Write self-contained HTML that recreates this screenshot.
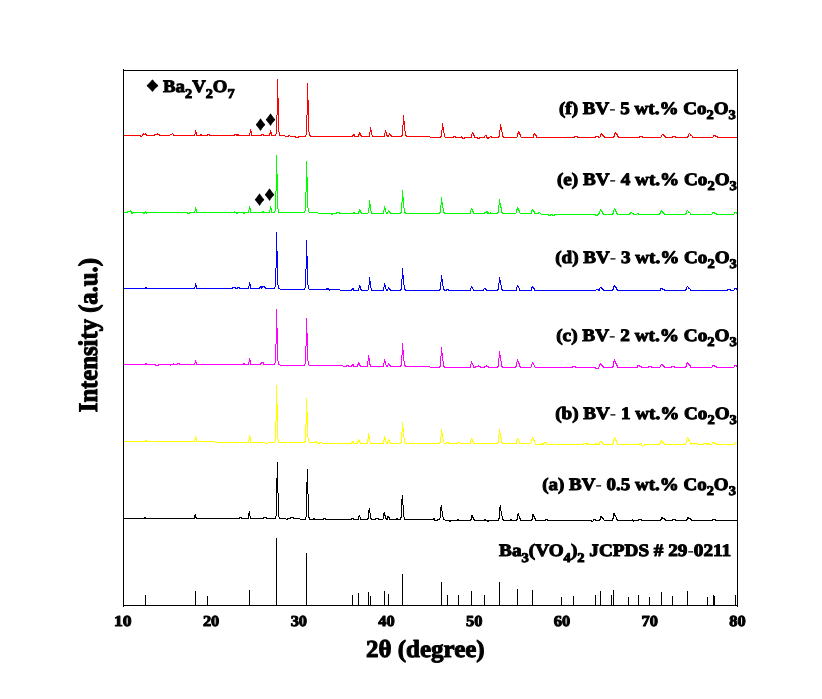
<!DOCTYPE html>
<html lang="en"><head><meta charset="utf-8"><title>XRD patterns</title>
<style>html,body{margin:0;padding:0;background:#fff;}body{width:822px;height:699px;overflow:hidden;}svg{display:block;}text{font-family:"Liberation Serif",serif;font-weight:bold;fill:#000;text-rendering:geometricPrecision;}</style>
</head><body>
<svg width="822" height="699" viewBox="0 0 822 699">
<rect x="0" y="0" width="822" height="699" fill="#ffffff"/>
<g stroke="none" shape-rendering="crispEdges">
<path d="M123 135h17v1h-17zM140 135h1v2h-1zM141 136h1v1h-1zM142 134h1v2h-1zM143 133h1v2h-1zM144 134h1v1h-1zM145 133h1v2h-1zM146 134h1v2h-1zM147 135h7v1h-7zM154 134h1v2h-1zM155 134h2v1h-2zM157 133h1v2h-1zM158 134h1v1h-1zM159 134h1v2h-1zM160 135h10v1h-10zM170 134h2v1h-2zM172 133h1v1h-1zM173 134h1v2h-1zM174 135h20v1h-20zM194 134h1v2h-1zM195 130h1v4h-1zM196 132h1v4h-1zM197 135h3v1h-3zM200 134h2v2h-2zM202 135h5v1h-5zM207 134h1v2h-1zM208 134h1v1h-1zM209 134h1v2h-1zM210 135h24v1h-24zM234 134h1v2h-1zM235 134h1v1h-1zM236 134h3v2h-3zM239 135h10v1h-10zM249 133h1v3h-1zM250 129h1v4h-1zM251 131h1v5h-1zM252 135h9v1h-9zM261 134h1v2h-1zM262 134h1v1h-1zM263 134h1v2h-1zM264 135h5v1h-5zM269 133h1v3h-1zM270 130h1v4h-1zM271 132h1v4h-1zM272 135h3v1h-3zM275 134h1v2h-1zM276 115h1v19h-1zM277 79h1v36h-1zM278 98h1v34h-1zM279 132h1v4h-1zM280 135h5v1h-5zM285 136h3v1h-3zM288 135h1v2h-1zM289 135h1v1h-1zM290 136h5v1h-5zM295 136h1v2h-1zM296 137h2v1h-2zM298 136h1v2h-1zM299 136h6v1h-6zM305 135h1v2h-1zM306 115h1v20h-1zM307 83h1v32h-1zM308 100h1v32h-1zM309 132h1v4h-1zM310 135h1v2h-1zM311 136h41v1h-41zM352 135h1v2h-1zM353 134h1v2h-1zM354 134h1v3h-1zM355 136h3v1h-3zM358 134h1v3h-1zM359 132h1v3h-1zM360 133h1v3h-1zM361 135h1v2h-1zM362 136h7v1h-7zM369 132h1v5h-1zM370 127h1v5h-1zM371 130h1v5h-1zM372 135h1v2h-1zM373 136h11v1h-11zM384 133h1v4h-1zM385 130h1v3h-1zM386 132h1v4h-1zM387 135h2v2h-2zM389 133h1v2h-1zM390 134h1v2h-1zM391 135h1v2h-1zM392 136h9v1h-9zM401 135h1v2h-1zM402 125h1v11h-1zM403 115h1v10h-1zM404 121h1v10h-1zM405 131h1v5h-1zM406 135h1v2h-1zM407 136h23v1h-23zM430 137h10v1h-10zM440 136h1v2h-1zM441 130h1v7h-1zM442 123h1v7h-1zM443 127h1v6h-1zM444 133h1v4h-1zM445 137h8v1h-8zM453 136h1v2h-1zM454 136h1v1h-1zM455 136h1v2h-1zM456 137h5v1h-5zM461 136h1v2h-1zM462 137h1v2h-1zM463 138h1v1h-1zM464 137h1v2h-1zM465 137h6v1h-6zM471 134h1v4h-1zM472 132h1v2h-1zM473 133h1v3h-1zM474 135h1v3h-1zM475 137h2v1h-2zM477 137h1v2h-1zM478 138h1v1h-1zM479 137h1v2h-1zM480 137h4v1h-4zM484 136h1v2h-1zM485 135h1v1h-1zM486 135h1v3h-1zM487 137h2v2h-2zM489 137h1v1h-1zM490 136h1v1h-1zM491 136h1v2h-1zM492 137h6v1h-6zM498 136h1v2h-1zM499 130h1v7h-1zM500 124h1v6h-1zM501 127h1v5h-1zM502 132h1v5h-1zM503 136h1v2h-1zM504 137h13v1h-13zM517 133h1v4h-1zM518 131h1v3h-1zM519 132h1v3h-1zM520 134h1v3h-1zM521 137h12v1h-12zM533 134h1v4h-1zM534 133h1v2h-1zM535 134h1v2h-1zM536 135h1v3h-1zM537 137h37v1h-37zM574 136h1v2h-1zM575 136h2v1h-2zM577 136h1v2h-1zM578 137h17v1h-17zM595 136h1v2h-1zM596 136h2v1h-2zM598 136h1v2h-1zM599 137h1v1h-1zM600 134h1v3h-1zM601 133h1v2h-1zM602 134h1v2h-1zM603 135h1v2h-1zM604 136h1v2h-1zM605 137h8v1h-8zM613 136h1v2h-1zM614 133h1v4h-1zM615 132h1v2h-1zM616 133h1v2h-1zM617 134h1v3h-1zM618 136h1v2h-1zM619 137h20v1h-20zM639 136h1v2h-1zM640 136h2v1h-2zM642 136h1v2h-1zM643 137h18v1h-18zM661 135h1v2h-1zM662 134h1v1h-1zM663 134h1v2h-1zM664 135h1v2h-1zM665 136h1v2h-1zM666 137h6v1h-6zM672 136h1v2h-1zM673 136h2v1h-2zM675 136h1v2h-1zM676 137h11v1h-11zM687 136h1v2h-1zM688 134h1v3h-1zM689 133h1v1h-1zM690 134h1v2h-1zM691 135h1v1h-1zM692 136h1v2h-1zM693 137h20v1h-20zM713 135h1v2h-1zM714 135h1v1h-1zM715 135h1v2h-1zM716 136h1v1h-1zM717 136h1v2h-1zM718 137h20v1h-20z" fill="#ff0000"/>
<path d="M123 212h4v1h-4zM127 211h1v2h-1zM128 211h2v1h-2zM130 210h1v2h-1zM131 211h1v3h-1zM132 212h1v2h-1zM133 212h10v1h-10zM143 212h2v2h-2zM145 211h1v2h-1zM146 212h1v2h-1zM147 212h40v1h-40zM187 212h1v2h-1zM188 213h1v1h-1zM189 212h1v2h-1zM190 212h4v1h-4zM194 211h1v2h-1zM195 207h1v4h-1zM196 209h1v4h-1zM197 212h37v1h-37zM234 211h1v2h-1zM235 212h1v1h-1zM236 212h2v2h-2zM238 212h5v1h-5zM243 212h2v2h-2zM245 212h3v1h-3zM248 210h1v3h-1zM249 206h1v4h-1zM250 208h1v5h-1zM251 212h11v1h-11zM262 211h2v2h-2zM264 212h5v1h-5zM269 210h1v3h-1zM270 206h1v4h-1zM271 208h1v5h-1zM272 212h2v1h-2zM274 211h1v2h-1zM275 191h1v20h-1zM276 155h1v36h-1zM277 174h1v35h-1zM278 209h1v4h-1zM279 212h25v1h-25zM304 211h1v2h-1zM305 192h1v19h-1zM306 161h1v31h-1zM307 177h1v31h-1zM308 208h1v4h-1zM309 212h9v1h-9zM318 213h13v1h-13zM331 213h2v2h-2zM333 213h3v1h-3zM336 212h1v2h-1zM337 212h2v1h-2zM339 212h1v2h-1zM340 213h13v1h-13zM353 212h2v2h-2zM355 213h3v1h-3zM358 211h1v3h-1zM359 209h1v3h-1zM360 210h1v3h-1zM361 212h1v2h-1zM362 213h6v1h-6zM368 208h1v5h-1zM369 200h1v8h-1zM370 204h1v7h-1zM371 211h1v3h-1zM372 213h11v1h-11zM383 210h1v4h-1zM384 206h1v4h-1zM385 208h1v4h-1zM386 212h2v2h-2zM388 210h1v2h-1zM389 211h1v2h-1zM390 212h1v2h-1zM391 213h9v1h-9zM400 212h1v2h-1zM401 202h1v11h-1zM402 190h1v12h-1zM403 197h1v11h-1zM404 208h1v5h-1zM405 212h1v2h-1zM406 213h33v1h-33zM439 212h1v2h-1zM440 205h1v8h-1zM441 197h1v8h-1zM442 202h1v6h-1zM443 208h1v5h-1zM444 212h1v2h-1zM445 213h25v1h-25zM470 210h1v4h-1zM471 208h1v2h-1zM472 209h1v3h-1zM473 211h1v3h-1zM474 213h10v1h-10zM484 212h1v2h-1zM485 212h1v1h-1zM486 211h1v2h-1zM487 211h1v3h-1zM488 212h1v2h-1zM489 213h1v1h-1zM490 212h1v2h-1zM491 213h6v1h-6zM497 212h1v2h-1zM498 205h1v8h-1zM499 199h1v6h-1zM500 203h1v5h-1zM501 207h1v6h-1zM502 212h1v2h-1zM503 213h13v1h-13zM516 209h1v4h-1zM517 207h1v3h-1zM518 208h1v3h-1zM519 210h1v3h-1zM520 213h11v1h-11zM531 210h1v4h-1zM532 209h1v2h-1zM533 210h1v2h-1zM534 211h1v3h-1zM535 213h3v1h-3zM538 212h1v2h-1zM539 212h1v1h-1zM540 213h1v1h-1zM541 214h7v1h-7zM548 214h1v2h-1zM549 215h1v1h-1zM550 214h1v2h-1zM551 214h1v1h-1zM552 214h1v2h-1zM553 215h1v1h-1zM554 214h1v2h-1zM555 214h40v1h-40zM595 214h1v2h-1zM596 215h1v1h-1zM597 214h1v2h-1zM598 213h1v2h-1zM599 211h1v3h-1zM600 209h1v2h-1zM601 210h1v2h-1zM602 211h1v3h-1zM603 213h1v2h-1zM604 214h8v1h-8zM612 213h1v2h-1zM613 210h1v4h-1zM614 208h1v2h-1zM615 209h1v3h-1zM616 211h1v3h-1zM617 213h1v2h-1zM618 214h11v1h-11zM629 213h1v2h-1zM630 212h1v2h-1zM631 212h1v1h-1zM632 213h1v1h-1zM633 213h1v2h-1zM634 214h3v1h-3zM637 213h1v1h-1zM638 213h1v2h-1zM639 214h20v1h-20zM659 213h1v2h-1zM660 211h1v3h-1zM661 210h1v2h-1zM662 211h1v2h-1zM663 212h1v2h-1zM664 213h1v2h-1zM665 214h20v1h-20zM685 213h1v2h-1zM686 211h1v3h-1zM687 210h1v1h-1zM688 211h1v2h-1zM689 212h1v1h-1zM690 213h1v2h-1zM691 214h21v1h-21zM712 212h1v2h-1zM713 212h1v1h-1zM714 212h1v2h-1zM715 213h1v1h-1zM716 213h1v2h-1zM717 214h17v1h-17zM734 212h1v2h-1zM735 212h1v1h-1zM736 212h1v2h-1zM737 213h1v1h-1z" fill="#00ff00"/>
<path d="M123 288h22v1h-22zM145 287h2v2h-2zM147 288h47v1h-47zM194 287h1v2h-1zM195 283h1v4h-1zM196 285h1v4h-1zM197 288h35v1h-35zM232 287h1v2h-1zM233 287h2v1h-2zM235 287h1v2h-1zM236 288h1v1h-1zM237 287h1v2h-1zM238 287h1v1h-1zM239 287h1v2h-1zM240 288h8v1h-8zM248 286h1v3h-1zM249 282h1v4h-1zM250 284h1v5h-1zM251 288h8v1h-8zM259 287h1v2h-1zM260 286h1v2h-1zM261 286h1v3h-1zM262 286h1v2h-1zM263 286h1v1h-1zM264 286h1v2h-1zM265 287h1v2h-1zM266 288h8v1h-8zM274 287h1v2h-1zM275 268h1v19h-1zM276 232h1v36h-1zM277 251h1v34h-1zM278 285h1v4h-1zM279 288h1v1h-1zM280 289h24v1h-24zM304 288h1v2h-1zM305 269h1v19h-1zM306 240h1v29h-1zM307 256h1v29h-1zM308 285h1v4h-1zM309 289h17v1h-17zM326 288h3v2h-3zM329 289h1v2h-1zM330 289h10v1h-10zM340 290h11v1h-11zM351 289h1v2h-1zM352 288h1v2h-1zM353 288h1v3h-1zM354 290h4v1h-4zM358 288h1v3h-1zM359 285h1v3h-1zM360 286h1v4h-1zM361 289h1v2h-1zM362 290h6v1h-6zM368 285h1v5h-1zM369 277h1v8h-1zM370 281h1v7h-1zM371 288h1v3h-1zM372 290h11v1h-11zM383 287h1v4h-1zM384 283h1v4h-1zM385 285h1v4h-1zM386 289h2v2h-2zM388 287h1v2h-1zM389 288h1v2h-1zM390 289h1v2h-1zM391 290h9v1h-9zM400 289h1v2h-1zM401 279h1v11h-1zM402 268h1v11h-1zM403 275h1v10h-1zM404 285h1v5h-1zM405 289h1v2h-1zM406 290h33v1h-33zM439 289h1v2h-1zM440 282h1v8h-1zM441 275h1v7h-1zM442 279h1v7h-1zM443 286h1v4h-1zM444 289h1v2h-1zM445 290h1v1h-1zM446 289h1v2h-1zM447 289h1v1h-1zM448 289h1v2h-1zM449 290h21v1h-21zM470 288h1v3h-1zM471 286h1v2h-1zM472 287h1v2h-1zM473 289h1v2h-1zM474 290h9v1h-9zM483 289h1v2h-1zM484 288h1v1h-1zM485 288h1v2h-1zM486 289h1v2h-1zM487 290h10v1h-10zM497 289h1v2h-1zM498 283h1v7h-1zM499 277h1v6h-1zM500 280h1v5h-1zM501 285h1v5h-1zM502 289h1v2h-1zM503 290h13v1h-13zM516 287h1v4h-1zM517 285h1v2h-1zM518 286h1v2h-1zM519 288h1v3h-1zM520 290h11v1h-11zM531 287h1v4h-1zM532 286h1v2h-1zM533 287h1v2h-1zM534 288h1v3h-1zM535 290h61v1h-61zM596 289h2v1h-2zM598 289h1v2h-1zM599 288h1v3h-1zM600 287h1v1h-1zM601 287h1v2h-1zM602 288h1v2h-1zM603 289h1v2h-1zM604 290h8v1h-8zM612 289h1v2h-1zM613 286h1v4h-1zM614 285h1v2h-1zM615 286h1v2h-1zM616 287h1v3h-1zM617 289h1v2h-1zM618 290h42v1h-42zM660 288h1v3h-1zM661 288h1v1h-1zM662 288h1v2h-1zM663 289h1v1h-1zM664 289h1v2h-1zM665 290h20v1h-20zM685 289h1v2h-1zM686 287h1v3h-1zM687 286h1v1h-1zM688 287h1v2h-1zM689 288h1v1h-1zM690 289h1v2h-1zM691 290h36v1h-36zM727 289h1v2h-1zM728 289h2v1h-2zM730 289h1v2h-1zM731 290h3v1h-3zM734 288h1v2h-1zM735 288h1v1h-1zM736 288h1v2h-1zM737 289h1v1h-1z" fill="#0000ff"/>
<path d="M123 364h22v1h-22zM145 363h2v2h-2zM147 364h8v1h-8zM155 364h1v2h-1zM156 365h2v1h-2zM158 364h1v2h-1zM159 364h11v1h-11zM170 364h1v2h-1zM171 364h2v1h-2zM173 363h1v2h-1zM174 364h3v1h-3zM177 363h1v2h-1zM178 363h1v1h-1zM179 363h1v2h-1zM180 364h14v1h-14zM194 363h1v2h-1zM195 360h1v3h-1zM196 362h1v3h-1zM197 364h46v1h-46zM243 363h2v2h-2zM245 364h3v1h-3zM248 362h1v3h-1zM249 358h1v4h-1zM250 360h1v5h-1zM251 364h9v1h-9zM260 363h1v2h-1zM261 362h1v2h-1zM262 362h1v1h-1zM263 362h1v3h-1zM264 364h10v1h-10zM274 363h1v2h-1zM275 344h1v19h-1zM276 309h1v35h-1zM277 328h1v33h-1zM278 361h1v4h-1zM279 364h1v1h-1zM280 365h24v1h-24zM304 364h1v2h-1zM305 346h1v18h-1zM306 318h1v28h-1zM307 333h1v28h-1zM308 361h1v4h-1zM309 365h34v1h-34zM343 366h3v1h-3zM346 365h1v2h-1zM347 365h1v1h-1zM348 365h1v2h-1zM349 366h2v1h-2zM351 365h1v2h-1zM352 364h1v2h-1zM353 364h1v3h-1zM354 366h3v1h-3zM357 364h1v3h-1zM358 362h1v3h-1zM359 363h1v3h-1zM360 365h1v2h-1zM361 366h6v1h-6zM367 361h1v6h-1zM368 355h1v6h-1zM369 358h1v7h-1zM370 364h1v3h-1zM371 366h12v1h-12zM383 363h1v4h-1zM384 359h1v4h-1zM385 361h1v4h-1zM386 365h2v2h-2zM388 363h1v2h-1zM389 364h1v2h-1zM390 365h1v2h-1zM391 366h9v1h-9zM400 365h1v2h-1zM401 355h1v11h-1zM402 343h1v12h-1zM403 350h1v11h-1zM404 361h1v5h-1zM405 365h1v2h-1zM406 366h24v1h-24zM430 367h9v1h-9zM439 366h1v2h-1zM440 356h1v11h-1zM441 347h1v9h-1zM442 353h1v8h-1zM443 361h1v6h-1zM444 366h1v2h-1zM445 367h25v1h-25zM470 364h1v4h-1zM471 361h1v3h-1zM472 363h1v2h-1zM473 365h1v3h-1zM474 367h1v1h-1zM475 366h1v2h-1zM476 366h2v1h-2zM478 365h1v2h-1zM479 366h1v1h-1zM480 366h1v2h-1zM481 367h3v1h-3zM484 366h1v2h-1zM485 366h1v1h-1zM486 365h1v2h-1zM487 366h1v1h-1zM488 366h1v2h-1zM489 367h8v1h-8zM497 366h1v2h-1zM498 358h1v9h-1zM499 351h1v7h-1zM500 355h1v6h-1zM501 361h1v6h-1zM502 366h1v2h-1zM503 367h12v1h-12zM515 366h1v2h-1zM516 362h1v5h-1zM517 359h1v3h-1zM518 361h1v3h-1zM519 363h1v4h-1zM520 366h1v2h-1zM521 367h10v1h-10zM531 364h1v3h-1zM532 362h1v2h-1zM533 363h1v2h-1zM534 365h1v2h-1zM535 367h37v1h-37zM572 366h1v2h-1zM573 366h2v1h-2zM575 366h1v2h-1zM576 367h19v1h-19zM595 367h1v2h-1zM596 368h2v1h-2zM598 367h1v2h-1zM599 364h1v3h-1zM600 363h1v2h-1zM601 364h1v2h-1zM602 365h1v2h-1zM603 366h1v2h-1zM604 367h8v1h-8zM612 366h1v2h-1zM613 361h1v6h-1zM614 359h1v3h-1zM615 361h1v3h-1zM616 363h1v3h-1zM617 365h1v3h-1zM618 367h19v1h-19zM637 365h1v3h-1zM638 365h1v1h-1zM639 365h1v2h-1zM640 366h1v1h-1zM641 366h1v2h-1zM642 367h6v1h-6zM648 366h1v2h-1zM649 366h2v1h-2zM651 366h1v2h-1zM652 367h8v1h-8zM660 365h1v2h-1zM661 364h1v1h-1zM662 364h1v2h-1zM663 365h1v2h-1zM664 366h1v2h-1zM665 367h6v1h-6zM671 366h1v2h-1zM672 366h2v1h-2zM674 366h1v2h-1zM675 367h10v1h-10zM685 366h1v2h-1zM686 363h1v4h-1zM687 362h1v2h-1zM688 363h1v2h-1zM689 364h1v2h-1zM690 365h1v3h-1zM691 367h21v1h-21zM712 365h1v2h-1zM713 365h1v1h-1zM714 365h1v2h-1zM715 366h1v1h-1zM716 366h1v2h-1zM717 367h17v1h-17zM734 365h1v2h-1zM735 365h1v1h-1zM736 365h1v2h-1zM737 366h1v1h-1z" fill="#ff00ff"/>
<path d="M123 441h22v1h-22zM145 440h2v2h-2zM147 441h47v1h-47zM194 440h1v2h-1zM195 436h1v4h-1zM196 438h1v4h-1zM197 441h18v1h-18zM215 442h33v1h-33zM248 440h1v3h-1zM249 435h1v5h-1zM250 437h1v6h-1zM251 442h14v1h-14zM265 443h3v1h-3zM268 442h6v1h-6zM274 441h1v2h-1zM275 421h1v20h-1zM276 385h1v36h-1zM277 404h1v35h-1zM278 439h1v4h-1zM279 442h25v1h-25zM304 441h1v2h-1zM305 425h1v17h-1zM306 398h1v27h-1zM307 412h1v26h-1zM308 438h1v4h-1zM309 442h6v1h-6zM315 441h1v2h-1zM316 441h1v1h-1zM317 442h1v2h-1zM318 443h1v1h-1zM319 442h1v2h-1zM320 442h2v1h-2zM322 443h29v1h-29zM351 442h1v2h-1zM352 441h1v2h-1zM353 441h1v3h-1zM354 443h3v1h-3zM357 441h1v3h-1zM358 439h1v3h-1zM359 440h1v3h-1zM360 442h1v2h-1zM361 443h6v1h-6zM367 439h1v5h-1zM368 433h1v6h-1zM369 436h1v6h-1zM370 442h1v2h-1zM371 443h12v1h-12zM383 440h1v4h-1zM384 436h1v4h-1zM385 438h1v4h-1zM386 442h1v2h-1zM387 441h1v3h-1zM388 439h1v2h-1zM389 440h1v3h-1zM390 442h1v2h-1zM391 443h9v1h-9zM400 442h1v2h-1zM401 432h1v11h-1zM402 422h1v10h-1zM403 428h1v10h-1zM404 438h1v5h-1zM405 443h34v1h-34zM439 442h1v2h-1zM440 436h1v7h-1zM441 429h1v7h-1zM442 433h1v6h-1zM443 439h1v4h-1zM444 443h2v1h-2zM446 442h1v2h-1zM447 442h1v1h-1zM448 442h1v2h-1zM449 443h8v1h-8zM457 442h1v2h-1zM458 442h2v1h-2zM460 443h10v1h-10zM470 440h1v4h-1zM471 438h1v2h-1zM472 439h1v3h-1zM473 441h1v3h-1zM474 443h23v1h-23zM497 442h1v2h-1zM498 435h1v8h-1zM499 429h1v6h-1zM500 433h1v5h-1zM501 437h1v6h-1zM502 442h1v2h-1zM503 443h13v1h-13zM516 440h1v4h-1zM517 438h1v2h-1zM518 439h1v2h-1zM519 441h1v3h-1zM520 443h11v1h-11zM531 439h1v4h-1zM532 437h1v2h-1zM533 438h1v3h-1zM534 440h1v3h-1zM535 443h1v2h-1zM536 444h5v1h-5zM541 443h3v2h-3zM544 442h1v2h-1zM545 442h1v1h-1zM546 442h1v3h-1zM547 444h36v1h-36zM583 443h1v2h-1zM584 443h2v1h-2zM586 443h3v2h-3zM589 444h6v1h-6zM595 443h2v2h-2zM597 444h2v1h-2zM599 442h1v3h-1zM600 441h1v1h-1zM601 441h1v2h-1zM602 442h1v2h-1zM603 443h1v2h-1zM604 444h8v1h-8zM612 443h1v2h-1zM613 439h1v5h-1zM614 437h1v2h-1zM615 438h1v3h-1zM616 440h1v3h-1zM617 443h1v2h-1zM618 444h21v1h-21zM639 443h1v2h-1zM640 443h1v1h-1zM641 443h1v3h-1zM642 446h1v1h-1zM643 445h1v1h-1zM644 444h1v2h-1zM645 444h14v1h-14zM659 443h1v2h-1zM660 441h1v3h-1zM661 440h1v2h-1zM662 441h1v2h-1zM663 442h1v2h-1zM664 443h1v2h-1zM665 444h20v1h-20zM685 443h1v2h-1zM686 439h1v4h-1zM687 437h1v2h-1zM688 438h1v3h-1zM689 440h1v2h-1zM690 442h1v2h-1zM691 443h1v2h-1zM692 443h2v1h-2zM694 443h1v2h-1zM695 443h2v1h-2zM697 443h1v2h-1zM698 444h5v1h-5zM703 443h1v2h-1zM704 443h2v1h-2zM706 443h2v2h-2zM708 443h1v1h-1zM709 443h1v2h-1zM710 444h2v1h-2zM712 442h1v2h-1zM713 442h1v1h-1zM714 442h1v2h-1zM715 443h1v1h-1zM716 443h1v2h-1zM717 444h18v1h-18zM735 442h1v2h-1zM736 442h1v1h-1zM737 442h1v2h-1z" fill="#ffff00"/>
<path d="M123 518h21v1h-21zM144 517h2v2h-2zM146 518h48v1h-48zM194 515h1v4h-1zM195 514h1v4h-1zM196 517h1v2h-1zM197 518h42v1h-42zM239 517h1v2h-1zM240 517h1v1h-1zM241 517h1v2h-1zM242 518h6v1h-6zM248 513h1v6h-1zM249 511h1v5h-1zM250 516h1v3h-1zM251 518h12v1h-12zM263 517h1v2h-1zM264 517h2v1h-2zM266 517h1v2h-1zM267 518h8v1h-8zM275 516h1v3h-1zM276 478h1v38h-1zM277 462h1v31h-1zM278 493h1v24h-1zM279 517h1v2h-1zM280 518h6v1h-6zM286 519h1v1h-1zM287 518h1v2h-1zM288 518h2v1h-2zM290 517h1v2h-1zM291 517h2v1h-2zM293 517h1v2h-1zM294 518h6v1h-6zM300 519h5v1h-5zM305 517h1v3h-1zM306 482h1v35h-1zM307 469h1v25h-1zM308 494h1v24h-1zM309 517h1v3h-1zM310 519h3v1h-3zM313 518h2v2h-2zM315 519h8v1h-8zM323 518h1v2h-1zM324 518h1v1h-1zM325 518h1v2h-1zM326 519h25v1h-25zM351 518h1v2h-1zM352 518h1v1h-1zM353 518h1v2h-1zM354 519h4v1h-4zM358 516h1v4h-1zM359 515h1v2h-1zM360 517h1v3h-1zM361 519h6v1h-6zM367 518h1v2h-1zM368 510h1v9h-1zM369 508h1v5h-1zM370 513h1v6h-1zM371 518h1v2h-1zM372 519h3v1h-3zM375 518h1v2h-1zM376 518h2v1h-2zM378 518h1v2h-1zM379 519h4v1h-4zM383 513h1v6h-1zM384 512h1v4h-1zM385 515h1v4h-1zM386 518h1v2h-1zM387 516h1v4h-1zM388 516h1v2h-1zM389 517h1v3h-1zM390 519h6v1h-6zM396 518h2v2h-2zM398 519h2v1h-2zM400 517h1v3h-1zM401 499h1v19h-1zM402 495h1v10h-1zM403 505h1v12h-1zM404 517h1v3h-1zM405 519h28v1h-28zM433 518h1v2h-1zM434 518h1v3h-1zM435 520h2v1h-2zM437 519h1v2h-1zM438 519h1v1h-1zM439 518h1v2h-1zM440 507h1v11h-1zM441 505h1v6h-1zM442 511h1v6h-1zM443 517h1v3h-1zM444 519h1v1h-1zM445 520h4v1h-4zM449 520h2v2h-2zM451 520h6v1h-6zM457 519h2v2h-2zM459 520h11v1h-11zM470 519h1v2h-1zM471 515h1v5h-1zM472 515h1v3h-1zM473 517h1v3h-1zM474 519h1v2h-1zM475 520h9v1h-9zM484 519h2v2h-2zM486 520h1v1h-1zM487 520h2v2h-2zM489 520h9v1h-9zM498 518h1v3h-1zM499 507h1v12h-1zM500 505h1v6h-1zM501 511h1v5h-1zM502 516h1v4h-1zM503 519h1v2h-1zM504 520h6v1h-6zM510 519h2v2h-2zM512 520h4v1h-4zM516 519h1v2h-1zM517 514h1v6h-1zM518 513h1v3h-1zM519 516h1v3h-1zM520 518h1v3h-1zM521 520h10v1h-10zM531 519h1v2h-1zM532 514h1v6h-1zM533 514h1v3h-1zM534 516h1v3h-1zM535 518h1v3h-1zM536 520h9v1h-9zM545 519h1v2h-1zM546 519h1v1h-1zM547 519h1v2h-1zM548 520h43v1h-43zM591 520h1v2h-1zM592 521h1v1h-1zM593 519h1v2h-1zM594 519h1v1h-1zM595 519h1v2h-1zM596 520h3v1h-3zM599 519h1v2h-1zM600 516h1v4h-1zM601 516h1v2h-1zM602 517h1v2h-1zM603 518h1v2h-1zM604 520h8v1h-8zM612 518h1v3h-1zM613 513h1v6h-1zM614 513h1v3h-1zM615 515h1v2h-1zM616 517h1v3h-1zM617 519h1v2h-1zM618 520h14v1h-14zM632 519h1v2h-1zM633 520h1v2h-1zM634 520h4v1h-4zM638 519h1v2h-1zM639 519h2v1h-2zM641 519h1v2h-1zM642 520h18v1h-18zM660 519h1v2h-1zM661 517h1v3h-1zM662 517h1v2h-1zM663 518h1v1h-1zM664 518h1v2h-1zM665 519h1v2h-1zM666 520h6v1h-6zM672 519h1v2h-1zM673 519h2v1h-2zM675 519h1v2h-1zM676 520h10v1h-10zM686 519h1v2h-1zM687 517h1v3h-1zM688 517h1v2h-1zM689 518h1v1h-1zM690 518h1v2h-1zM691 519h1v2h-1zM692 520h20v1h-20zM712 519h1v2h-1zM713 519h2v1h-2zM715 519h1v2h-1zM716 520h22v1h-22z" fill="#000000"/>
</g>
<path d="M145 595h1v11h-1zM195 591h1v15h-1zM207 596h1v10h-1zM249 590h1v16h-1zM276 538h1v68h-1zM306 553h1v53h-1zM352 595h1v11h-1zM358 593h1v13h-1zM368 592h1v14h-1zM370 596h1v10h-1zM384 591h1v15h-1zM388 594h1v12h-1zM402 574h1v32h-1zM441 582h1v24h-1zM447 595h1v11h-1zM458 595h1v11h-1zM471 591h1v15h-1zM484 595h1v11h-1zM499 582h1v24h-1zM517 589h1v17h-1zM532 590h1v16h-1zM561 597h1v9h-1zM573 596h1v10h-1zM595 595h1v11h-1zM600 591h1v15h-1zM611 595h1v11h-1zM613 590h1v16h-1zM628 597h1v9h-1zM638 595h1v11h-1zM649 597h1v9h-1zM661 592h1v14h-1zM672 596h1v10h-1zM687 591h1v15h-1zM707 597h1v9h-1zM713 595h1v11h-1zM714 596h1v10h-1zM735 595h1v11h-1zM123 69h1v538h-1zM737 69h1v538h-1zM123 70h615v1h-615zM123 605h615v1h-615z" fill="#000" shape-rendering="crispEdges"/>
<g stroke="#000" stroke-linejoin="round">
<text transform="translate(146.54,91.38) scale(1.2830,1)" font-size="18.38" font-weight="normal" stroke-width="0.8">♦</text>
<text transform="translate(255.69,130.28) scale(1.0264,1)" font-size="18.38" font-weight="normal" stroke-width="0.8">♦</text>
<text transform="translate(265.69,125.38) scale(1.0264,1)" font-size="18.38" font-weight="normal" stroke-width="0.8">♦</text>
<text transform="translate(254.69,205.28) scale(1.0264,1)" font-size="18.38" font-weight="normal" stroke-width="0.8">♦</text>
<text transform="translate(264.69,200.38) scale(1.0264,1)" font-size="18.38" font-weight="normal" stroke-width="0.8">♦</text>
<text transform="translate(114.05,626.30) scale(1.1500,1.0)" font-size="15.3" stroke-width="1.0" xml:space="preserve" >10</text>
<text transform="translate(202.91,626.30) scale(1.0733,1.0)" font-size="15.3" stroke-width="1.0" xml:space="preserve" >20</text>
<text transform="translate(290.63,626.30) scale(1.0733,1.0)" font-size="15.3" stroke-width="1.0" xml:space="preserve" >30</text>
<text transform="translate(378.34,626.30) scale(1.0733,1.0)" font-size="15.3" stroke-width="1.0" xml:space="preserve" >40</text>
<text transform="translate(466.06,626.30) scale(1.0733,1.0)" font-size="15.3" stroke-width="1.0" xml:space="preserve" >50</text>
<text transform="translate(553.77,626.30) scale(1.0733,1.0)" font-size="15.3" stroke-width="1.0" xml:space="preserve" >60</text>
<text transform="translate(641.49,626.30) scale(1.0733,1.0)" font-size="15.3" stroke-width="1.0" xml:space="preserve" >70</text>
<text transform="translate(729.20,626.30) scale(1.0733,1.0)" font-size="15.3" stroke-width="1.0" xml:space="preserve" >80</text>
<text transform="translate(365.98,657.00) scale(1.0157,1.0)" font-size="24.6" stroke-width="1.0" xml:space="preserve" >2θ (degree)</text>
<text transform="translate(97.4,412.20) rotate(-90) scale(1.0026,1.09)" font-size="24.6" stroke-width="1.0">Intensity (a.u.)</text>
<text transform="translate(163.10,91.70) scale(1.0716,1.0)" font-size="17.5" stroke-width="1.0" xml:space="preserve" >Ba<tspan dy="6.4" font-size="13.3">2</tspan><tspan dy="-6.4">V</tspan><tspan dy="6.4" font-size="13.3">2</tspan><tspan dy="-6.4">O</tspan><tspan dy="6.4" font-size="13.3">7</tspan></text>
<text transform="translate(559.00,113.60) scale(1.0877,1.0)" font-size="17.5" stroke-width="1.0" xml:space="preserve" >(f) BV<tspan font-weight="normal" stroke="none">-</tspan> 5 wt.% Co<tspan dy="5.4" font-size="13.3">2</tspan><tspan dy="-5.4">O</tspan><tspan dy="5.4" font-size="13.3">3</tspan></text>
<text transform="translate(557.00,184.70) scale(1.0933,1.0)" font-size="17.5" stroke-width="1.0" xml:space="preserve" >(e) BV<tspan font-weight="normal" stroke="none">-</tspan> 4 wt.% Co<tspan dy="5.4" font-size="13.3">2</tspan><tspan dy="-5.4">O</tspan><tspan dy="5.4" font-size="13.3">3</tspan></text>
<text transform="translate(555.20,262.70) scale(1.0910,1.0)" font-size="17.5" stroke-width="1.0" xml:space="preserve" >(d) BV<tspan font-weight="normal" stroke="none">-</tspan> 3 wt.% Co<tspan dy="5.4" font-size="13.3">2</tspan><tspan dy="-5.4">O</tspan><tspan dy="5.4" font-size="13.3">3</tspan></text>
<text transform="translate(556.20,340.60) scale(1.0982,1.0)" font-size="17.5" stroke-width="1.0" xml:space="preserve" >(c) BV<tspan font-weight="normal" stroke="none">-</tspan> 2 wt.% Co<tspan dy="5.4" font-size="13.3">2</tspan><tspan dy="-5.4">O</tspan><tspan dy="5.4" font-size="13.3">3</tspan></text>
<text transform="translate(555.20,418.50) scale(1.0910,1.0)" font-size="17.5" stroke-width="1.0" xml:space="preserve" >(b) BV<tspan font-weight="normal" stroke="none">-</tspan> 1 wt.% Co<tspan dy="5.4" font-size="13.3">2</tspan><tspan dy="-5.4">O</tspan><tspan dy="5.4" font-size="13.3">3</tspan></text>
<text transform="translate(542.20,489.60) scale(1.0844,1.0)" font-size="17.5" stroke-width="1.0" xml:space="preserve" >(a) BV<tspan font-weight="normal" stroke="none">-</tspan> 0.5 wt.% Co<tspan dy="5.4" font-size="13.3">2</tspan><tspan dy="-5.4">O</tspan><tspan dy="5.4" font-size="13.3">3</tspan></text>
<text transform="translate(499.10,555.70) scale(1.0962,1.0)" font-size="17.5" stroke-width="1.0" xml:space="preserve" >Ba<tspan dy="6.4" font-size="13.3">3</tspan><tspan dy="-6.4">(VO</tspan><tspan dy="6.4" font-size="13.3">4</tspan><tspan dy="-6.4">)</tspan><tspan dy="6.4" font-size="13.3">2</tspan><tspan dy="-6.4"> JCPDS # 29</tspan><tspan font-weight="normal" stroke="none">-</tspan>0211</text>
</g>
</svg></body></html>
